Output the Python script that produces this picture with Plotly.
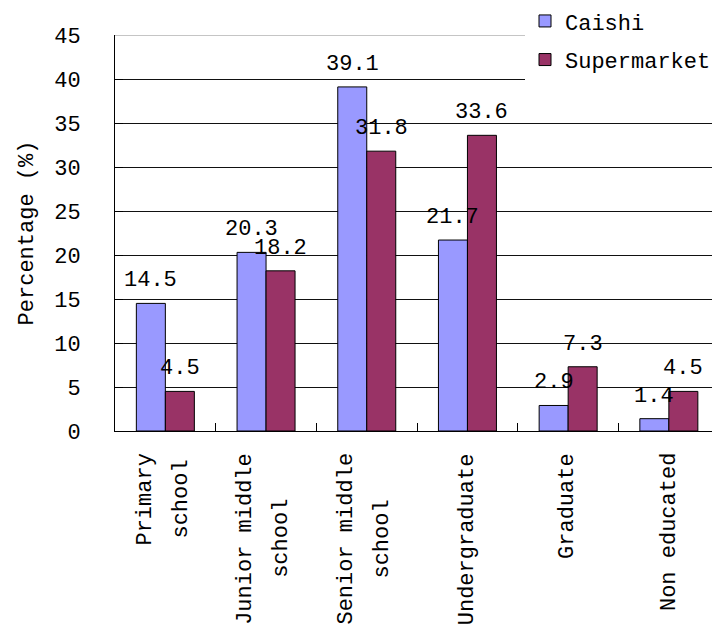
import plotly.graph_objects as go

# Education level of shoppers, percentage per outlet
categories = [
    ["Primary", "school"],
    ["Junior middle", "school"],
    ["Senior middle", "school"],
    ["Undergraduate"],
    ["Graduate"],
    ["Non educated"],
]
caishi = [14.5, 20.3, 39.1, 21.7, 2.9, 1.4]
supermarket = [4.5, 18.2, 31.8, 33.6, 7.3, 4.5]
y_ticks = [0, 5, 10, 15, 20, 25, 30, 35, 40, 45]

FONT = "Liberation Mono"
FS = 22
CHAR_W = 0.6 * FS          # monospace advance width
LINE_GAP = 36              # px between lines of a category label
BAR_GAP = 0.424
half = (1 - BAR_GAP) / 4   # centre offset of each bar inside its group

x = list(range(len(categories)))
x_max = -0.5 + 597 / 100.7

fig = go.Figure()
fig.add_bar(
    x=x, y=caishi, name="Caishi", legendgroup="caishi",
    marker=dict(color="#9999FF", line=dict(color="black", width=1)),
)
fig.add_bar(
    x=x, y=supermarket, name="Supermarket", legendgroup="supermarket",
    marker=dict(color="#993366", line=dict(color="black", width=1)),
)

annotations = []
# value labels above each bar
for series, off in ((caishi, -half), (supermarket, half)):
    for i, v in enumerate(series):
        annotations.append(dict(
            x=i + off, y=v, xref="x", yref="y", text=f"{v}",
            showarrow=False, yanchor="bottom", yshift=8,
            font=dict(family=FONT, size=FS, color="black"),
        ))

# rotated category labels, one annotation per line, centred on a common middle
for i, lines in enumerate(categories):
    n = len(lines)
    longest = max(len(s) for s in lines)
    for k, line in enumerate(lines):
        shift_x = (k - (n - 1) / 2) * LINE_GAP - (2 if n > 1 else 0)
        annotations.append(dict(
            x=i, y=0, xref="x", yref="y", text=line, textangle=-90,
            showarrow=False, xanchor="center", yanchor="middle",
            xshift=shift_x, yshift=-(22 + longest * CHAR_W / 2),
            font=dict(family=FONT, size=FS, color="black"),
        ))

fig.update_layout(
    width=712, height=627,
    margin=dict(l=115, r=0, t=35, b=196, pad=0, autoexpand=False),
    paper_bgcolor="white", plot_bgcolor="white",
    barmode="group", bargap=BAR_GAP, bargroupgap=0,
    font=dict(family=FONT, size=FS, color="black"),
    annotations=annotations,
    legend=dict(
        x=(525 - 115) / 597, xanchor="left",
        y=1.088, yanchor="top",
        bgcolor="white", borderwidth=0,
        font=dict(family=FONT, size=FS, color="black"),
        traceorder="grouped", tracegroupgap=7,
    ),
    shapes=[dict(
        type="line", xref="x", yref="y", x0=-0.5, x1=x_max, y0=45, y1=45,
        line=dict(color="#8c8c8c", width=1), layer="above",
    )],
)

fig.update_xaxes(
    range=[-0.5, x_max],
    tickvals=[i + 0.5 for i in x[:-1]],
    ticks="inside", ticklen=8, tickcolor="black", tickwidth=1,
    showticklabels=False,
    showline=True, linecolor="black", linewidth=1,
    showgrid=False, zeroline=False,
)
fig.update_yaxes(
    range=[0, 45], tickvals=y_ticks,
    ticks="inside", ticklen=8, tickcolor="black", tickwidth=1,
    showgrid=True, gridcolor="#111111", gridwidth=1,
    showline=True, linecolor="black", linewidth=1, zeroline=False,
    tickfont=dict(family=FONT, size=FS, color="black"),
    ticklabelstandoff=29,
    title=dict(text="Percentage (%)", standoff=14,
               font=dict(family=FONT, size=FS, color="black")),
)

fig.write_html("out.html")
